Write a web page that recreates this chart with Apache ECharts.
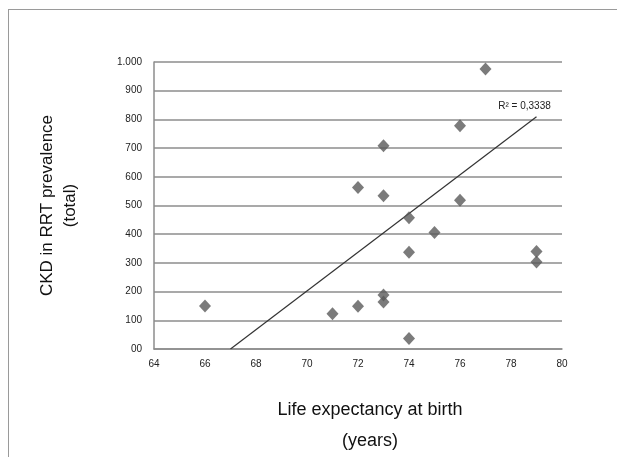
<!DOCTYPE html>
<html>
<head>
    <meta charset="utf-8">
    <title>CKD in RRT prevalence</title>
    <script src="https://cdn.jsdelivr.net/npm/echarts@6/dist/echarts.min.js"></script>
    <style>
        html, body { margin: 0; padding: 0; background: #fff; }
        #frame {
            position: absolute; left: 8px; top: 9px; width: 609px; height: 448px;
            border-top: 1.5px solid #9a9a9a; border-left: 1.5px solid #9a9a9a;
        }
        #main { position: absolute; left: 0; top: 0; width: 617px; height: 457px; }
    </style>
</head>
<body>
<div id="frame"></div>
<div id="main"></div>
<script>
    // life expectancy (years) / CKD RRT prevalence
    var lifeExp = [66, 71, 72, 72, 73, 73, 73, 73, 74, 74, 74, 75, 76, 76, 77, 79, 79];
    var prevalence = [150, 123, 563, 149, 708, 534, 188, 164, 457, 337, 37, 406, 778, 518, 976, 340, 303];
    // trend line ends
    var trendX = [67, 79];
    var trendY = [0, 809];
    var r2Text = 'R² = 0,3338';

    var points = lifeExp.map(function (x, i) { return [x, prevalence[i]]; });
    var trend = trendX.map(function (x, i) { return [x, trendY[i]]; });
    trend[1] = {
        value: trend[1],
        label: {show: true, position: 'top', distance: 6, offset: [-12, 0], formatter: r2Text,
            fontSize: 10, color: '#222', fontFamily: 'Liberation Sans, Arial'}
    };

    var myChart = echarts.init(document.getElementById('main'));
    myChart.setOption({
        animation: false,
        textStyle: {fontFamily: 'Liberation Sans, Arial'},
        grid: {left: 154, right: 55, top: 62, bottom: 108, containLabel: false, outerBoundsMode: 'none'},
        xAxis: {
            type: 'value', min: 64, max: 80, interval: 2,
            name: 'Life expectancy at birth\n(years)',
            nameLocation: 'middle', nameGap: 46, nameMoveOverlap: false,
            nameTextStyle: {fontSize: 18, color: '#111', lineHeight: 31, padding: [0, 0, 0, 24]},
            axisLine: {show: true, lineStyle: {color: '#8c8c8c', width: 1.5}},
            axisTick: {show: false},
            splitLine: {show: false},
            axisLabel: {fontSize: 10, color: '#222', margin: 10}
        },
        yAxis: {
            type: 'value', min: 0, max: 1000, interval: 100,
            name: 'CKD in RRT prevalence\n(total)',
            nameLocation: 'middle', nameGap: 72,
            nameTextStyle: {fontSize: 17, color: '#111', lineHeight: 23},
            axisLine: {show: true, lineStyle: {color: '#8c8c8c', width: 1.5}},
            axisTick: {show: false},
            splitLine: {show: true, lineStyle: {color: '#8c8c8c', width: 1.5}},
            axisLabel: {
                fontSize: 10, color: '#222', margin: 12,
                formatter: function (v) {
                    if (v === 0) return '00';
                    if (v >= 1000) return '1.000';
                    return String(v);
                }
            }
        },
        series: [
            {
                type: 'scatter',
                symbol: 'diamond',
                symbolSize: [12, 13],
                itemStyle: {color: '#5a5a5a'},
                data: points,
                z: 3
            },
            {
                type: 'line',
                data: trend,
                showSymbol: true,
                symbol: 'circle',
                symbolSize: 0,
                lineStyle: {color: '#333', width: 1.2},
                z: 2
            }
        ]
    });
</script>
</body>
</html>
